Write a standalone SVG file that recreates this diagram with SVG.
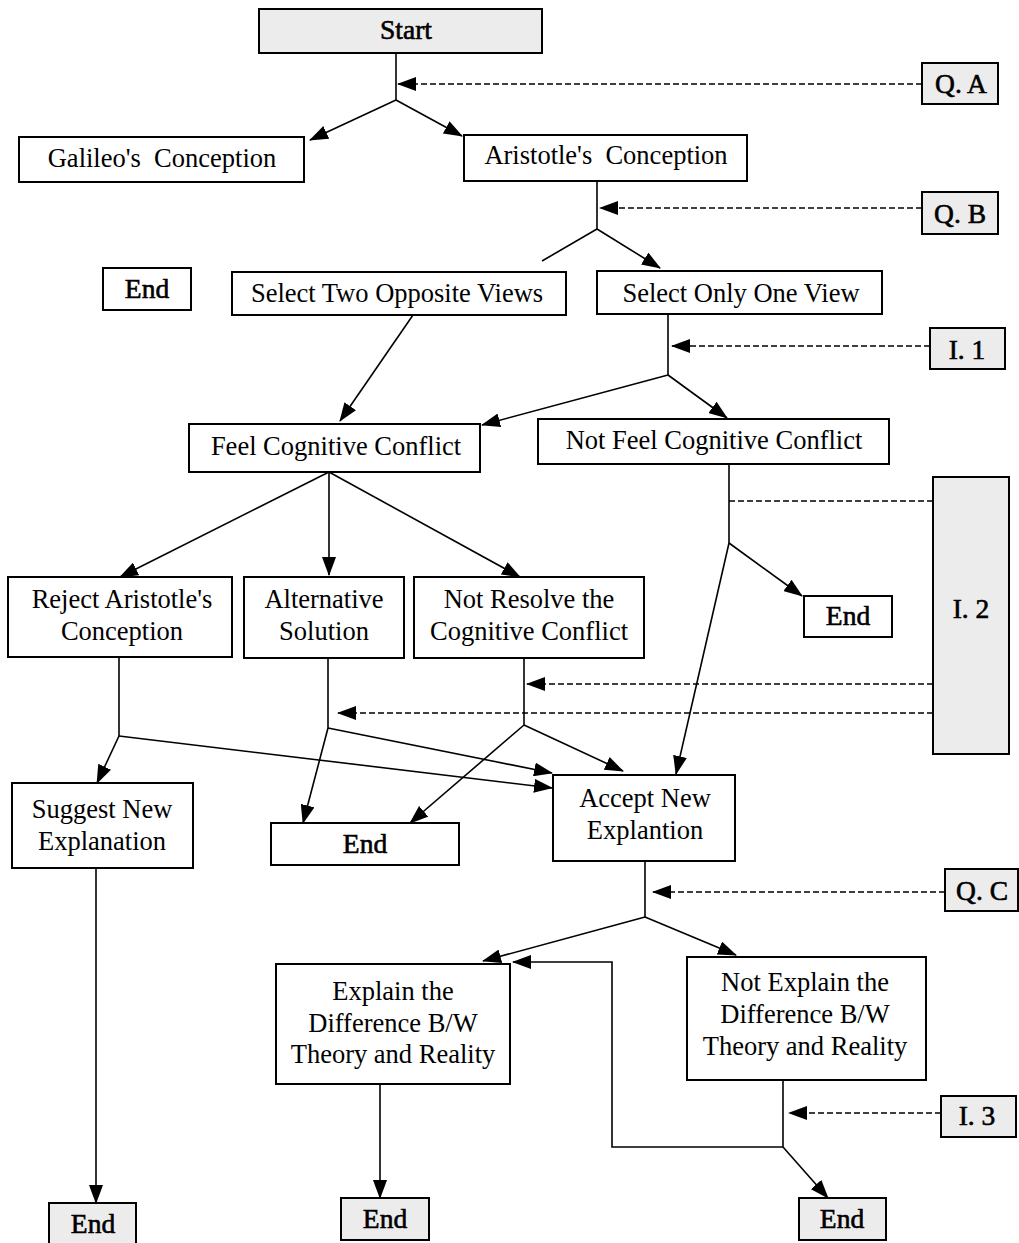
<svg xmlns="http://www.w3.org/2000/svg" width="1019" height="1243" viewBox="0 0 1019 1243">
<style>
.box{fill:#fff;stroke:#000;stroke-width:2}
.gbox{fill:#ececec;stroke:#000;stroke-width:2}
.t{font-family:"Liberation Serif","DejaVu Serif",serif;font-size:26.5px;fill:#000;text-anchor:middle}
.b{font-size:27.5px;stroke:#000;stroke-width:0.6}
.ln{fill:none;stroke:#000;stroke-width:1.6}
.ar{marker-end:url(#ah)}
.dash{fill:none;stroke:#000;stroke-width:1.6;stroke-dasharray:6 3}
</style>
<defs>
<marker id="ah" markerUnits="userSpaceOnUse" markerWidth="19" markerHeight="14" refX="18" refY="7" orient="auto">
<path d="M0,0 L19,7 L0,14 z" fill="#000"/>
</marker>
</defs>
<rect width="1019" height="1243" fill="#fff"/>

<g id="connectors">
<path class="ln" d="M396,53 V100"/>
<path class="ln ar" d="M396,100 L310,140"/>
<path class="ln ar" d="M396,100 L462,136"/>
<path class="dash ar" d="M922,84 H398"/>
<path class="ln" d="M597,181 V229"/>
<path class="dash ar" d="M922,208 H600"/>
<path class="ln" d="M597,229 L542,261"/>
<path class="ln ar" d="M597,229 L660,268"/>
<path class="ln ar" d="M413,315 L340,421"/>
<path class="ln" d="M668,314 V375"/>
<path class="dash ar" d="M930,346 H672"/>
<path class="ln ar" d="M668,375 L482,425"/>
<path class="ln ar" d="M668,375 L727,418"/>
<path class="ln" d="M729,464 V543"/>
<path class="dash" d="M933,501 H729"/>
<path class="ln ar" d="M729,543 L802,596"/>
<path class="ln ar" d="M729,543 L676,774"/>
<path class="ln ar" d="M329,472 L120,577"/>
<path class="ln ar" d="M329,472 L329,575"/>
<path class="ln ar" d="M329,472 L520,577"/>
<path class="ln" d="M119,657 V736"/>
<path class="ln ar" d="M119,736 L97,783"/>
<path class="ln ar" d="M119,736 L552,788"/>
<path class="ln" d="M328,658 V728"/>
<path class="ln ar" d="M328,728 L303,823"/>
<path class="ln ar" d="M328,728 L552,773"/>
<path class="ln" d="M524,658 V725"/>
<path class="ln ar" d="M524,725 L410,823"/>
<path class="ln ar" d="M524,725 L623,771"/>
<path class="dash ar" d="M933,684 H527"/>
<path class="dash ar" d="M933,713 H338"/>
<path class="ln ar" d="M96,868 V1203"/>
<path class="ln" d="M645,861 V917"/>
<path class="dash ar" d="M945,892 H653"/>
<path class="ln ar" d="M645,917 L483,961"/>
<path class="ln ar" d="M645,917 L736,955"/>
<path class="ln ar" d="M380,1084 V1198"/>
<path class="ln" d="M783,1080 V1147"/>
<path class="dash ar" d="M941,1113 H789"/>
<path class="ln ar" d="M783,1147 H612 V962 H513"/>
<path class="ln ar" d="M783,1147 L828,1198"/>
</g>

<g id="start"><rect class="gbox" x="259" y="9" width="283" height="44"/><text class="t b" x="406" y="39">Start</text></g>
<g id="galileo"><rect class="box" x="19" y="137" width="285" height="45"/><text class="t" x="162" y="167" xml:space="preserve">Galileo's  Conception</text></g>
<g id="aristotle"><rect class="box" x="464" y="135" width="283" height="46"/><text class="t" x="606" y="164" xml:space="preserve">Aristotle's  Conception</text></g>
<g id="qa"><rect class="gbox" x="922" y="63" width="76" height="41"/><text class="t b" x="961" y="93">Q. A</text></g>
<g id="qb"><rect class="gbox" x="922" y="192" width="76" height="42"/><text class="t b" x="960" y="223">Q. B</text></g>
<g id="end1"><rect class="box" x="103" y="268" width="88" height="42"/><text class="t b" x="147" y="298">End</text></g>
<g id="selecttwo"><rect class="box" x="232" y="272" width="334" height="43"/><text class="t" x="397" y="302">Select Two Opposite Views</text></g>
<g id="selectone"><rect class="box" x="597" y="271" width="285" height="43"/><text class="t" x="741" y="302">Select Only One View</text></g>
<g id="i1"><rect class="gbox" x="930" y="328" width="75" height="41"/><text class="t b" x="967" y="359">I. 1</text></g>
<g id="feel"><rect class="box" x="189" y="424" width="291" height="48"/><text class="t" x="336" y="455">Feel Cognitive Conflict</text></g>
<g id="notfeel"><rect class="box" x="538" y="419" width="351" height="45"/><text class="t" x="714" y="449">Not Feel Cognitive Conflict</text></g>
<g id="i2"><rect class="gbox" x="933" y="477" width="76" height="277"/><text class="t b" x="971" y="618">I. 2</text></g>
<g id="reject"><rect class="box" x="8" y="577" width="224" height="80"/><text class="t" x="122" y="608">Reject Aristotle's</text><text class="t" x="122" y="640">Conception</text></g>
<g id="alternative"><rect class="box" x="244" y="577" width="160" height="81"/><text class="t" x="324" y="608">Alternative</text><text class="t" x="324" y="640">Solution</text></g>
<g id="notresolve"><rect class="box" x="414" y="577" width="230" height="81"/><text class="t" x="529" y="608">Not Resolve the</text><text class="t" x="529" y="640">Cognitive Conflict</text></g>
<g id="end2"><rect class="box" x="804" y="596" width="88" height="41"/><text class="t b" x="848" y="625">End</text></g>
<g id="suggest"><rect class="box" x="12" y="783" width="181" height="85"/><text class="t" x="102" y="818">Suggest New</text><text class="t" x="102" y="850">Explanation</text></g>
<g id="end3"><rect class="box" x="271" y="823" width="188" height="42"/><text class="t b" x="365" y="853">End</text></g>
<g id="accept"><rect class="box" x="553" y="775" width="182" height="86"/><text class="t" x="645" y="807">Accept New</text><text class="t" x="645" y="839">Explantion</text></g>
<g id="qc"><rect class="gbox" x="945" y="869" width="73" height="42"/><text class="t b" x="982" y="900">Q. C</text></g>
<g id="explain"><rect class="box" x="276" y="964" width="234" height="120"/><text class="t" x="393" y="1000">Explain the</text><text class="t" x="393" y="1032">Difference B/W</text><text class="t" x="393" y="1063">Theory and Reality</text></g>
<g id="notexplain"><rect class="box" x="687" y="957" width="239" height="123"/><text class="t" x="805" y="991">Not Explain the</text><text class="t" x="805" y="1023">Difference B/W</text><text class="t" x="805" y="1055">Theory and Reality</text></g>
<g id="i3"><rect class="gbox" x="941" y="1096" width="75" height="41"/><text class="t b" x="977" y="1125">I. 3</text></g>
<g id="end4"><rect class="gbox" x="49" y="1203" width="87" height="44"/><text class="t b" x="93" y="1233">End</text></g>
<g id="end5"><rect class="gbox" x="341" y="1198" width="88" height="42"/><text class="t b" x="385" y="1228">End</text></g>
<g id="end6"><rect class="gbox" x="799" y="1198" width="87" height="42"/><text class="t b" x="842" y="1228">End</text></g>
</svg>
